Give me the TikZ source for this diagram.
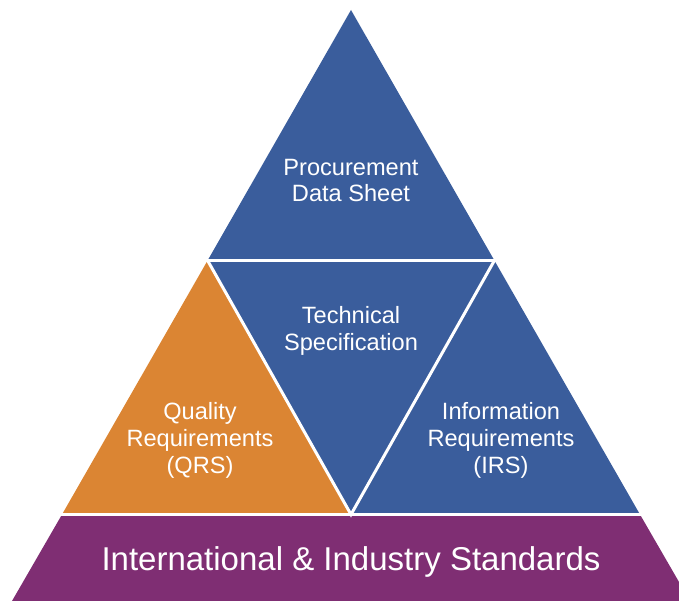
\documentclass[tikz,border=0pt]{standalone}
\usepackage{fontspec}
\setmainfont{Liberation Sans}
\definecolor{pblue}{HTML}{3A5D9C}
\definecolor{porange}{HTML}{DB8533}
\definecolor{ppurple}{HTML}{7F2E73}
\begin{document}
\begin{tikzpicture}[x=1pt,y=-1pt,
  sep/.style={white,line width=3pt},
  lbl/.style={text=white,align=center,font=\fontsize{23.6}{26.8}\selectfont,inner sep=0pt},
  biglbl/.style={text=white,align=center,font=\fontsize{33}{36}\selectfont,inner sep=0pt}]
\useasboundingbox (0,0) rectangle (679,601);
\begin{scope}
\clip (0,0) rectangle (679,601);
\coordinate (A) at (351,10);
\coordinate (L1) at (207.6,260.5);
\coordinate (R1) at (494.4,260.5);
\coordinate (L2) at (62,514.5);
\coordinate (R2) at (640,514.5);
\coordinate (M) at (351,514.5);
\coordinate (L3) at (12,601);
\coordinate (R3) at (690,601);
\fill[pblue] (A) -- (L1) -- (R1) -- cycle;
\fill[porange] (L1) -- (L2) -- (M) -- cycle;
\fill[pblue] (L1) -- (R1) -- (M) -- cycle;
\fill[pblue] (R1) -- (R2) -- (M) -- cycle;
\fill[ppurple] (L2) -- (R2) -- (R3) -- (L3) -- cycle;
\draw[sep] ([xshift=-10pt]L1) -- ([xshift=10pt]R1);
\draw[sep] ([xshift=-10pt]L2) -- ([xshift=10pt]R2);
\draw[sep] (L1) -- (M) -- (R1);
\end{scope}
\node[lbl] (pds) at (351,180.5) {Procurement\\Data Sheet};
\node[lbl] (ts) at (351,331) {Technical\\Specification};
\node[lbl] (qrs) at (200,440.5) {Quality\\Requirements\\(QRS)};
\node[lbl] (irs) at (501,440.5) {Information\\Requirements\\(IRS)};
\node[biglbl] (std) at (351,562) {International \& Industry Standards};
\end{tikzpicture}
\end{document}
